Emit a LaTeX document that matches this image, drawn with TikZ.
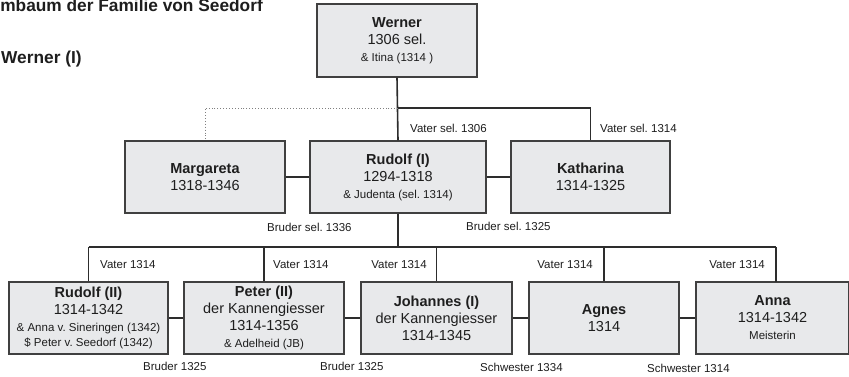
\documentclass[tikz,border=0pt]{standalone}
\usepackage{fontspec}
\setmainfont{Liberation Sans}
\frenchspacing
\definecolor{boxfill}{RGB}{232,233,235}
\definecolor{boxline}{RGB}{64,64,64}
\definecolor{conline}{RGB}{45,45,45}
\definecolor{txt}{RGB}{30,30,30}
\newcommand\bigf{\fontsize{14.5}{17}\selectfont}
\newcommand\smallf{\fontsize{11.5}{13}\selectfont}
\newcommand\labf{\fontsize{11.5}{13}\selectfont}
\newcommand\titlef{\fontsize{17.3}{20}\selectfont\bfseries}
\begin{document}
\begin{tikzpicture}[x=1pt,y=-1pt,
  box/.style={draw=boxline, fill=boxfill, line width=1.2pt, align=center, inner sep=0pt, text=txt, font=\bigf, minimum height=72pt},
  lab/.style={font=\labf, text=txt, inner sep=0pt},
  con/.style={draw=conline, line width=1.1pt},
  trunk/.style={draw=conline, line width=1.6pt},
  dots/.style={draw=gray, line width=0.9pt, dotted}]
\clip (0,0) rectangle (849,376);
\fill[white] (0,0) rectangle (849,376);
% titles
\node[anchor=base east, font=\titlef, text=txt, inner sep=0pt] (title) at (263,11) {Stammbaum der Familie von Seedorf};
\node[anchor=base west, font=\titlef, text=txt, inner sep=0pt] (sub) at (1,63) {Werner (I)};
% boxes
\node[box, minimum width=160pt, minimum height=73pt] (werner) at (397,40.5) {\textbf{Werner}\\1306 sel.\\{\smallf \& Itina (1314 )}};
\node[box, minimum width=160pt] (marg) at (205,177) {\textbf{Margareta}\\1318-1346};
\node[box, minimum width=176pt] (rud1) at (398,177) {\textbf{Rudolf (I)}\\1294-1318\\{\smallf \& Judenta (sel. 1314)}};
\node[box, minimum width=159pt] (kath) at (590.5,177) {\textbf{Katharina}\\1314-1325};
\node[box, minimum width=159pt] (rud2) at (88.5,318) {\textbf{Rudolf (II)}\\1314-1342\\{\smallf \& Anna v. Sineringen (1342)}\\[-2pt]{\smallf \$ Peter v. Seedorf (1342)}};
\node[box, minimum width=160pt] (peter) at (264,318) {\textbf{Peter (II)}\\der Kannengiesser\\1314-1356\\{\smallf \& Adelheid (JB)}};
\node[box, minimum width=151pt] (joh) at (436.5,318) {\textbf{Johannes (I)}\\der Kannengiesser\\1314-1345};
\node[box, minimum width=150pt] (agnes) at (604,318) {\textbf{Agnes}\\1314};
\node[box, minimum width=153pt] (anna) at (772.5,318) {\textbf{Anna}\\1314-1342\\{\smallf Meisterin}};
% coordinates
\coordinate (j1) at (398,108);
\coordinate (jk) at (kath.north |- j1);
\coordinate (jm) at (marg.north |- j1);
\coordinate (j2) at (398,247);
\coordinate (b1) at (rud2.north |- j2);
\coordinate (b2) at (peter.north |- j2);
\coordinate (b3) at (joh.north |- j2);
\coordinate (b4) at (agnes.north |- j2);
\coordinate (b5) at (776,247);
\coordinate (a5) at (776,282);
% connectors
\draw[trunk] (werner.south) -- (rud1.north);
\draw[con] (j1) -- (jk) -- (kath.north);
\draw[dots] (j1) -- (jm) -- (marg.north);
\draw[con] (marg.east) -- (rud1.west);
\draw[con] (rud1.east) -- (kath.west);
\draw[trunk] (rud1.south) -- (j2);
\draw[con] (b1) -- (b5);
\draw[con] (b1) -- (rud2.north);
\draw[con] (b2) -- (peter.north);
\draw[con] (b3) -- (joh.north);
\draw[con] (b4) -- (agnes.north);
\draw[con] (b5) -- (a5);
\draw[con] (rud2.east) -- (peter.west);
\draw[con] (peter.east) -- (joh.west);
\draw[con] (joh.east) -- (agnes.west);
\draw[con] (agnes.east) -- (anna.west);
% labels
\node[lab, anchor=west] (l1) at (410,128) {Vater sel. 1306};
\node[lab, anchor=west] (l2) at (600,128) {Vater sel. 1314};
\node[lab, anchor=west] (l3) at (267,227) {Bruder sel. 1336};
\node[lab, anchor=west] (l4) at (466,226) {Bruder sel. 1325};
\node[lab, anchor=west] (v1) at (100,265) {Vater 1314};
\node[lab, anchor=west] (v2) at (273,265) {Vater 1314};
\node[lab, anchor=east] (v3) at (427,265) {Vater 1314};
\node[lab, anchor=east] (v4) at (593,265) {Vater 1314};
\node[lab, anchor=east] (v5) at (765,265) {Vater 1314};
\node[lab, anchor=west] (s1) at (143,366) {Bruder 1325};
\node[lab, anchor=west] (s2) at (320,366) {Bruder 1325};
\node[lab, anchor=west] (s3) at (480,367) {Schwester 1334};
\node[lab, anchor=west] (s4) at (647,368) {Schwester 1314};
\end{tikzpicture}
\end{document}
